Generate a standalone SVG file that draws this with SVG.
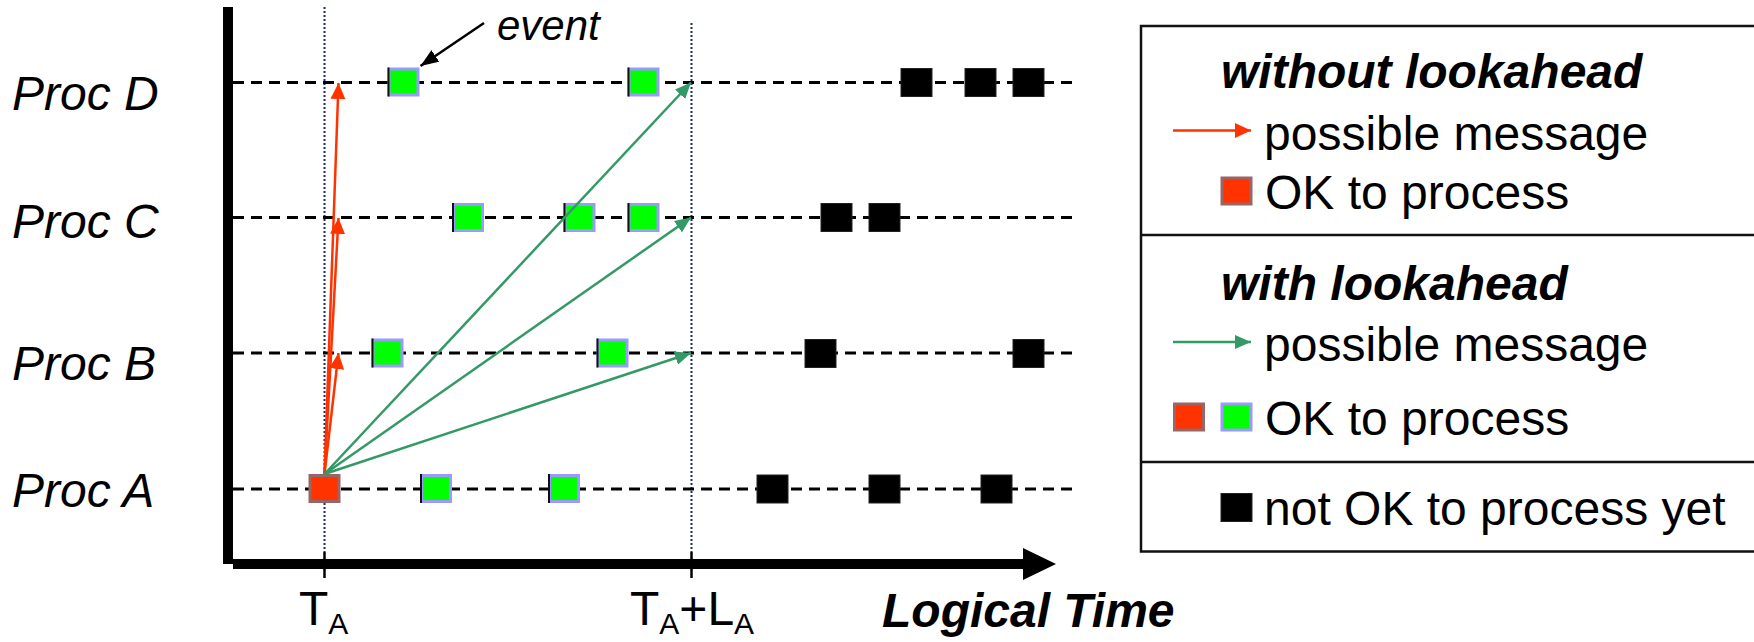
<svg xmlns="http://www.w3.org/2000/svg" width="1754" height="642" viewBox="0 0 1754 642">
  <style>
    .lbl { font-family: "Liberation Sans", Arial, sans-serif; fill: #000; }
    .proc { font-size: 48px; font-style: italic; }
    .reg { font-size: 48px; }
    .bi { font-size: 48px; font-style: italic; font-weight: bold; }
    .sub { font-size: 30px; }
    .lane { stroke: #000; stroke-width: 3; stroke-dasharray: 11 7; fill: none; }
    .guide { stroke: #1c2a66; stroke-width: 2; stroke-dasharray: 2 2; fill: none; }
    .tick { stroke: #000; stroke-width: 2.5; }
    .ev-green { fill: #00ff00; stroke: #9999ff; stroke-width: 3; }
    .ev-red { fill: #ff3300; stroke: #996666; stroke-width: 3; }
    .ev-black { fill: #000; stroke: #222; stroke-width: 1; }
    .edge { stroke: #111; stroke-width: 2; }
    .msg-red { stroke: #ff3300; stroke-width: 2.5; fill: none; marker-end: url(#headRed); }
    .msg-green { stroke: #339966; stroke-width: 2.5; fill: none; marker-end: url(#headGreen); }
    .pointer { stroke: #000; stroke-width: 2.5; fill: none; marker-end: url(#headBlack); }
    .box { fill: none; stroke: #111; stroke-width: 2.5; }
  </style>
  <defs>
    <marker id="headRed" markerUnits="userSpaceOnUse" markerWidth="16" markerHeight="15" refX="16" refY="7.5" orient="auto">
      <path d="M0,0 L16,7.5 L0,15 z" fill="#ff3300"/>
    </marker>
    <marker id="headGreen" markerUnits="userSpaceOnUse" markerWidth="16" markerHeight="14" refX="16" refY="7" orient="auto">
      <path d="M0,0 L16,7 L0,14 z" fill="#339966"/>
    </marker>
    <marker id="headBlack" markerUnits="userSpaceOnUse" markerWidth="18" markerHeight="14" refX="18" refY="7" orient="auto">
      <path d="M0,0 L18,7 L0,14 z" fill="#000"/>
    </marker>
    <!-- event squares: 32 x 29 outer, border drawn inside -->
    <g id="sqGreen">
      <rect class="ev-green" x="1.5" y="1.5" width="29" height="26"/>
      <line class="edge" x1="1" y1="0" x2="1" y2="29"/>
    </g>
    <rect id="sqRed" class="ev-red" x="1.5" y="1.5" width="29" height="26"/>
    <rect id="sqBlack" class="ev-black" x="0.5" y="0.5" width="31" height="28"/>
  </defs>

  <rect width="1754" height="642" fill="#fff"/>

  <!-- time guides -->
  <g id="guides">
    <line class="guide" x1="324.5" y1="7" x2="324.5" y2="552"/>
    <line class="guide" x1="691.5" y1="23" x2="691.5" y2="552"/>
  </g>

  <!-- process timelines -->
  <g id="lanes">
    <line class="lane" x1="233" y1="82.5" x2="1076" y2="82.5"/>
    <line class="lane" x1="233" y1="217.5" x2="1076" y2="217.5"/>
    <line class="lane" x1="233" y1="353" x2="1076" y2="353"/>
    <line class="lane" x1="233" y1="489" x2="1076" y2="489"/>
  </g>

  <!-- axes -->
  <g id="axes">
    <rect x="223" y="7" width="10" height="557" fill="#000"/>
    <rect x="233" y="559" width="791" height="10" fill="#000"/>
    <polygon points="1023,548 1056,564 1023,580" fill="#000"/>
    <line class="tick" x1="324.5" y1="552" x2="324.5" y2="578"/>
    <line class="tick" x1="691.5" y1="552" x2="691.5" y2="578"/>
  </g>

  <!-- process labels -->
  <g id="proc-labels">
    <text class="lbl proc" x="12" y="110">Proc D</text>
    <text class="lbl proc" x="12" y="238">Proc C</text>
    <text class="lbl proc" x="12" y="380">Proc B</text>
    <text class="lbl proc" x="12" y="507">Proc A</text>
  </g>

  <!-- events on Proc D -->
  <g id="procD-events">
    <use id="d1" href="#sqGreen" x="387.5" y="67.5"/>
    <use id="d2" href="#sqGreen" x="627.5" y="67.5"/>
    <use id="d3" href="#sqBlack" x="900.5" y="68"/>
    <use id="d4" href="#sqBlack" x="964.5" y="68"/>
    <use id="d5" href="#sqBlack" x="1012.5" y="68"/>
  </g>
  <!-- events on Proc C -->
  <g id="procC-events">
    <use id="c1" href="#sqGreen" x="452" y="203"/>
    <use id="c2" href="#sqGreen" x="563.5" y="203"/>
    <use id="c3" href="#sqGreen" x="627.5" y="203"/>
    <use id="c4" href="#sqBlack" x="820.5" y="203"/>
    <use id="c5" href="#sqBlack" x="868.5" y="203"/>
  </g>
  <!-- events on Proc B -->
  <g id="procB-events">
    <use id="b1" href="#sqGreen" x="371.5" y="338.5"/>
    <use id="b2" href="#sqGreen" x="596.5" y="338.5"/>
    <use id="b3" href="#sqBlack" x="804.5" y="339"/>
    <use id="b4" href="#sqBlack" x="1012.5" y="339"/>
  </g>
  <!-- events on Proc A -->
  <g id="procA-events">
    <use id="a1" href="#sqRed" x="308.5" y="474"/>
    <use id="a2" href="#sqGreen" x="420" y="474"/>
    <use id="a3" href="#sqGreen" x="548" y="474"/>
    <use id="a4" href="#sqBlack" x="756.5" y="474.5"/>
    <use id="a5" href="#sqBlack" x="868.5" y="474.5"/>
    <use id="a6" href="#sqBlack" x="980.5" y="474.5"/>
  </g>

  <!-- messages -->
  <g id="connectors">
    <line class="msg-red" x1="324.5" y1="474" x2="338.5" y2="83"/>
    <line class="msg-red" x1="324.5" y1="474" x2="338.5" y2="218"/>
    <line class="msg-red" x1="324.5" y1="474" x2="338.5" y2="353"/>
    <line class="msg-green" x1="324.5" y1="474" x2="691" y2="82.5"/>
    <line class="msg-green" x1="324.5" y1="474" x2="691" y2="217.5"/>
    <line class="msg-green" x1="324.5" y1="474" x2="691" y2="353"/>
    <line class="pointer" x1="484" y1="23" x2="420.5" y2="66"/>
  </g>

  <text class="lbl" x="497" y="40" font-size="42" font-style="italic">event</text>

  <!-- time axis labels -->
  <g id="time-labels">
    <text class="lbl reg" x="299" y="625">T<tspan class="sub" dy="9">A</tspan></text>
    <text class="lbl reg" x="630" y="625">T<tspan class="sub" dy="9">A</tspan><tspan dy="-9">+L</tspan><tspan class="sub" dy="9">A</tspan></text>
    <text class="lbl bi" x="882" y="627">Logical Time</text>
  </g>

  <!-- legend -->
  <g id="legend">
    <rect class="box" x="1141" y="26" width="640" height="525.5"/>
    <line class="box" x1="1141" y1="235" x2="1760" y2="235"/>
    <line class="box" x1="1141" y1="462" x2="1760" y2="462"/>

    <text class="lbl bi" x="1221" y="88">without lookahead</text>
    <line x1="1173" y1="130.5" x2="1251" y2="130.5" stroke="#ff3300" stroke-width="2.5" marker-end="url(#headRed)"/>
    <text class="lbl reg" x="1264" y="150">possible message</text>
    <use href="#sqRed" x="1220.5" y="176.5"/>
    <text class="lbl reg" x="1265" y="209">OK to process</text>

    <text class="lbl bi" x="1221" y="300">with lookahead</text>
    <line x1="1173" y1="342" x2="1251" y2="342" stroke="#339966" stroke-width="2.5" marker-end="url(#headGreen)"/>
    <text class="lbl reg" x="1264" y="361">possible message</text>
    <use href="#sqRed" x="1173" y="402.5"/>
    <rect class="ev-green" x="1222" y="404" width="29" height="26"/>
    <text class="lbl reg" x="1265" y="435">OK to process</text>

    <use href="#sqBlack" x="1220.5" y="493"/>
    <text class="lbl reg" x="1264" y="525">not OK to process yet</text>
  </g>
</svg>
